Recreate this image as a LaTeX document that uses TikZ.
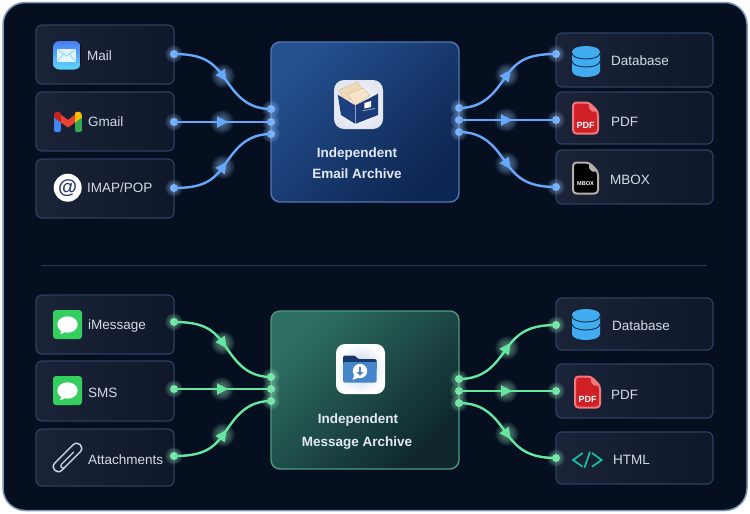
\documentclass[tikz,border=0pt]{standalone}
\usepackage{fontspec}
\setmainfont{Liberation Sans}
\definecolor{panelbg}{HTML}{050F20}
\definecolor{panelln}{HTML}{7F98B8}
\definecolor{boxl}{HTML}{1B2338}
\definecolor{boxr}{HTML}{0F172A}
\definecolor{boxln}{HTML}{2E405F}
\definecolor{labelc}{HTML}{D5DBE6}
\definecolor{titlec}{HTML}{E3E9F3}
\definecolor{bluew}{HTML}{66A8FB}
\definecolor{greenw}{HTML}{66E6A0}
\definecolor{glowb}{HTML}{A0CCFF}
\definecolor{glowg}{HTML}{A0F4C4}
\definecolor{dbblue}{HTML}{41ACEF}
\definecolor{dbline}{HTML}{0D2B4A}
\definecolor{HubLine}{HTML}{1E3A5F}
\definecolor{HubBlueLn}{HTML}{4F78B6}
\definecolor{HubBlueA}{HTML}{24508F}
\definecolor{HubBlueB}{HTML}{0D2551}
\definecolor{HubGreenLn}{HTML}{4E9A80}
\definecolor{HubGreenA}{HTML}{2D6F62}
\definecolor{HubGreenB}{HTML}{0E262C}
\definecolor{BubbleGreen}{HTML}{35CF5F}
\definecolor{MailA}{HTML}{4A7DF2}
\definecolor{MailB}{HTML}{5FD6FB}
\definecolor{GmailBlue}{HTML}{4285F4}
\definecolor{GmailGreen}{HTML}{34A853}
\definecolor{GmailRed}{HTML}{EA4335}
\definecolor{GmailDark}{HTML}{C5221F}
\definecolor{GmailYellow}{HTML}{FBBC04}
\definecolor{AtBlue}{HTML}{2B3A70}
\definecolor{PdfRed}{HTML}{CF2027}
\definecolor{PdfPink}{HTML}{F0797D}
\definecolor{MboxGray}{HTML}{B5B0A8}
\definecolor{PaperA}{HTML}{EFD9B8}
\definecolor{PaperB}{HTML}{F6E3C8}
\definecolor{PaperEdge}{HTML}{D8BE98}
\definecolor{EmailRim}{HTML}{E4E6F2}
\definecolor{FolderA}{HTML}{1E3F80}
\definecolor{FolderB}{HTML}{1B3A78}
\definecolor{PaperGray}{HTML}{8A9BB5}
\definecolor{MsgTint}{HTML}{BCD2EE}
\definecolor{MsgDark}{HTML}{16386B}
\definecolor{MsgFront}{HTML}{4585CB}
\definecolor{ClipGray}{HTML}{C5D0E0}
\definecolor{HtmlTeal}{HTML}{17C3A0}
\tikzset{
  panel/.style={draw=panelln,line width=1.5pt,fill=panelbg,rounded corners=22pt},
  srcbox/.style={draw=boxln,line width=1.2pt,left color=boxl,right color=boxr,rounded corners=6pt},
  hubblue/.style={draw=HubBlueLn,line width=1.4pt,rounded corners=9pt,top color=HubBlueA,bottom color=HubBlueB,shading angle=45},
  hubgreen/.style={draw=HubGreenLn,line width=1.4pt,rounded corners=9pt,top color=HubGreenA,bottom color=HubGreenB,shading angle=45},
  portb/.style={circle,fill=bluew,inner sep=0pt,minimum size=8pt},
  portg/.style={circle,fill=greenw,inner sep=0pt,minimum size=8pt},
  wireb/.style={draw=bluew,line width=2.4pt},
  wireg/.style={draw=greenw,line width=2.4pt},
  lbl/.style={anchor=base west,inner sep=0pt,text=labelc,font=\fontsize{13.5}{15}\selectfont},
  ttl/.style={anchor=base,inner sep=0pt,text=titlec,font=\fontsize{13.5}{15}\selectfont\bfseries},
}
\newcommand\glowat[3]{\foreach \rr in {1,.93,.86,.79,.72,.65,.58,.51,.44,.37,.3,.23}{\fill[#3,opacity=.055] (#1) circle[radius=\rr*#2 pt];}}
\newcommand\arrowmark[3]{\begin{scope}[shift={(#1)},rotate=#2]\fill[#3] (6,0) -- (-5,-5.8) -- (-5,5.8) -- cycle;\end{scope}}
\newcommand\dbicon[2]{\begin{scope}[shift={(#1,#2)}]
 \fill[dbblue] (-14,6) .. controls (-14,-2) and (14,-2) .. (14,6) -- (14,25) .. controls (14,33) and (-14,33) .. (-14,25) -- cycle;
 \draw[dbline,line width=.9pt] (-14,7) .. controls (-14,15) and (14,15) .. (14,7);
 \draw[dbline,line width=.9pt] (-14,15) .. controls (-14,23) and (14,23) .. (14,15);
 \end{scope}}
\newcommand\docicon[7]{\begin{scope}[shift={(#1,#2)}]
 \draw[draw=#4,fill=#3,line width=2pt,rounded corners=3.5pt] (0,0) -- (16,0) -- (25,9) -- (25,31) -- (0,31) -- cycle;
 \fill[#4] (16,0) -- (25,9) -- (19,9) [rounded corners=1pt] -- (16,6) -- cycle;
 \node[inner sep=0pt,text=white,font=\fontsize{#6}{#6}\selectfont\bfseries] (#5) at (12.5,#7) {#5};
 \end{scope}}
\newcommand\bubbleicon[2]{\begin{scope}[shift={(#1,#2)}]
 \fill[BubbleGreen,rounded corners=3pt] (0,0) rectangle (29,29);
 \fill[white] (14.5,14.5) ellipse[x radius=10.2pt,y radius=8.2pt];
 \fill[white] (8.5,19) .. controls (8.5,21) and (8,23) .. (7,24) .. controls (9.5,24) and (11,23) .. (12.5,21.5) -- cycle;
 \end{scope}}
\begin{document}
\begin{tikzpicture}[x=1pt,y=-1pt]
\useasboundingbox (0,0) rectangle (750,514);
\fill[white] (0,0) rectangle (750,514);
\path[panel] (3,2.5) rectangle (747,510.5);
\draw[draw=HubLine,line width=1pt] (41,265) -- (707,265);
% boxes
\foreach \a/\b/\c/\d in {36/25/174/84,36/92/174/151,36/159/174/218,556/33/713/87,556/92/713/144,556/150/713/204,
 36/295/174/354,36/361/174/421,36/429/174/486,556/298/713/350,556/364/713/418,556/432/713/484}{
 \path[srcbox] (\a,\b) rectangle (\c,\d);}
\path[hubblue] (271,42) rectangle (459,202);
\path[hubgreen] (271,311) rectangle (459,469);
% arrow anchors
\coordinate (a1) at (223,76);\coordinate (a2) at (222,122);\coordinate (a3) at (223,167);
\coordinate (b1) at (507,75);\coordinate (b2) at (506,120);\coordinate (b3) at (507,164);
\coordinate (g1) at (223,343);\coordinate (g2) at (222,389);\coordinate (g3) at (223,435);
\coordinate (h1) at (507,348);\coordinate (h2) at (506,391);\coordinate (h3) at (507,434);
\foreach \p in {a1,a2,a3,b1,b2,b3}{\glowat{\p}{12}{glowb}}
\foreach \p in {g1,g2,g3,h1,h2,h3}{\glowat{\p}{12}{glowg}}
% ports
\node[portb] (m1) at (174,54) {};
\node[portb] (m2) at (174,122) {};
\node[portb] (m3) at (174,188) {};
\node[portb] (c1) at (271,109) {};
\node[portb] (c2) at (271,122) {};
\node[portb] (c3) at (271,134) {};
\node[portb] (d1) at (459,108) {};
\node[portb] (d2) at (459,120) {};
\node[portb] (d3) at (459,132) {};
\node[portb] (t1) at (556,54) {};
\node[portb] (t2) at (556,120) {};
\node[portb] (t3) at (556,187) {};
\node[portg] (n1) at (174,322) {};
\node[portg] (n2) at (174,389) {};
\node[portg] (n3) at (174,456) {};
\node[portg] (e1) at (271,377) {};
\node[portg] (e2) at (271,389) {};
\node[portg] (e3) at (271,401) {};
\node[portg] (f1) at (459,379) {};
\node[portg] (f2) at (459,391) {};
\node[portg] (f3) at (459,403) {};
\node[portg] (u1) at (556,325) {};
\node[portg] (u2) at (556,391) {};
\node[portg] (u3) at (556,458) {};
\foreach \p in {m1,m2,m3,c1,c2,c3,d1,d2,d3,t1,t2,t3}{\glowat{\p}{9}{glowb}}
\foreach \p in {n1,n2,n3,e1,e2,e3,f1,f2,f3,u1,u2,u3}{\glowat{\p}{9}{glowg}}
% connectors
\path[wireb] (m1.center) .. controls +(27,0) and +(-11,-15) .. (a1) .. controls +(11,15) and +(-27,0) .. (c1.center);
\path[wireb] (m2.center) -- (c2.center);
\path[wireb] (m3.center) .. controls +(27,0) and +(-11,15) .. (a3) .. controls +(11,-15) and +(-27,0) .. (c3.center);
\path[wireb] (d1.center) .. controls +(27,0) and +(-11,15) .. (b1) .. controls +(11,-15) and +(-27,0) .. (t1.center);
\path[wireb] (d2.center) -- (t2.center);
\path[wireb] (d3.center) .. controls +(27,0) and +(-11,-15) .. (b3) .. controls +(11,15) and +(-27,0) .. (t3.center);
\path[wireg] (n1.center) .. controls +(27,0) and +(-11,-15) .. (g1) .. controls +(11,15) and +(-27,0) .. (e1.center);
\path[wireg] (n2.center) -- (e2.center);
\path[wireg] (n3.center) .. controls +(27,0) and +(-11,15) .. (g3) .. controls +(11,-15) and +(-27,0) .. (e3.center);
\path[wireg] (f1.center) .. controls +(27,0) and +(-11,15) .. (h1) .. controls +(11,-15) and +(-27,0) .. (u1.center);
\path[wireg] (f2.center) -- (u2.center);
\path[wireg] (f3.center) .. controls +(27,0) and +(-11,-15) .. (h3) .. controls +(11,15) and +(-27,0) .. (u3.center);
\arrowmark{a1}{-55}{bluew}\arrowmark{a2}{0}{bluew}\arrowmark{a3}{55}{bluew}
\arrowmark{b1}{55}{bluew}\arrowmark{b2}{0}{bluew}\arrowmark{b3}{-55}{bluew}
\arrowmark{g1}{-55}{greenw}\arrowmark{g2}{0}{greenw}\arrowmark{g3}{55}{greenw}
\arrowmark{h1}{55}{greenw}\arrowmark{h2}{0}{greenw}\arrowmark{h3}{-55}{greenw}
% mail icon
\fill[rounded corners=6pt,top color=MailA,bottom color=MailB] (53,41) rectangle (80.5,69.5);
\fill[white,opacity=.85] (57,49) rectangle (76,61.5);
\draw[MailB,line width=.6pt] (57,49) -- (66.5,56) -- (76,49) (57,61.5) -- (63.5,54) (76,61.5) -- (69.5,54);
% gmail
\fill[GmailBlue,rounded corners=1.5pt] (54,114) rectangle (60.8,132);
\fill[GmailGreen,rounded corners=1.5pt] (75,114) rectangle (81.8,132);
\fill[GmailRed] (60.8,114.5) -- (68,120) -- (75,114.5) -- (75,122.5) -- (68,127.5) -- (60.8,122.5) -- cycle;
\fill[GmailDark] (54,115.5) .. controls (54,111.5) and (58,110.5) .. (60.8,113) -- (60.8,122.5) -- (54,117.5) -- cycle;
\fill[GmailYellow] (81.8,115.5) .. controls (81.8,111.5) and (78,110.5) .. (75,113) -- (75,122.5) -- (81.8,117.5) -- cycle;
% at icon
\fill[white] (67.7,187.7) circle[radius=14pt];
\node[inner sep=0pt,text=AtBlue,font=\fontsize{19.5}{20}\selectfont\bfseries] (atsign) at (67.7,187.7) {@};
% right icons, upper
\dbicon{586}{46}
\docicon{573}{102.5}{PdfRed}{PdfPink}{PDF}{9}{23}
\docicon{573}{162.5}{black}{MboxGray}{MBOX}{5.6}{21.5}
% labels
\node[lbl] (lmail) at (87,60) {Mail};
\node[lbl] (lgmail) at (88,126) {Gmail};
\node[lbl] (limap) at (87,192) {IMAP/POP};
\node[lbl] (ldb) at (611,65) {Database};
\node[lbl] (lpdf) at (611,126) {PDF};
\node[lbl] (lmbox) at (610,184) {MBOX};
\node[lbl] (limsg) at (88,329) {iMessage};
\node[lbl] (lsms) at (88,397) {SMS};
\node[lbl] (latt) at (88,464) {Attachments};
\node[lbl] (ldbb) at (612,330) {Database};
\node[lbl] (lpdfb) at (611,399) {PDF};
\node[lbl] (lhtml) at (613,464) {HTML};
% hub titles
\node[ttl] (t1a) at (357,157) {Independent};
\node[ttl] (t1b) at (357,178) {Email Archive};
\node[ttl] (t2a) at (358,423) {Independent};
\node[ttl] (t2b) at (357,446) {Message Archive};
% email archive icon
\path[rounded corners=10pt,inner color=white,outer color=EmailRim] (334,80) rectangle (383,129);
\draw[fill=PaperA,draw=PaperEdge,line width=.5pt] (339,90) -- (357.7,82) -- (364,93) -- (345,102) -- cycle;
\draw[fill=PaperB,draw=PaperEdge,line width=.5pt] (347.7,94) -- (363,88) -- (370,95.5) -- (355,105.5) -- cycle;
\fill[FolderA] (337.7,94.7) -- (355,105.3) -- (355,123.7) -- (341,115) -- cycle;
\fill[FolderB] (355.7,105.3) -- (378,93.7) -- (378,115) -- (355.7,123.7) -- cycle;
\fill[white] (364.3,103) -- (371,101) -- (371,107) -- (364.3,108.5) -- cycle;
\draw[PaperGray,line width=.9pt] (362.5,110.8) -- (375,108.5);
% message archive icon
\path[rounded corners=9pt,inner color=MsgTint,outer color=white] (336,344) rectangle (385,394);
\fill[MsgDark,rounded corners=1.5pt] (343,355.5) -- (355,355.5) -- (358,359) -- (376.5,359) -- (376.5,370) -- (343,370) -- cycle;
\fill[MsgFront,rounded corners=1.5pt] (343,362) rectangle (376.5,382.5);
\fill[white] (360,371) circle[radius=7.2pt];
\fill[white] (354.5,374) -- (352.5,380) -- (359,377.5) -- cycle;
\draw[MsgFront,line width=1.2pt] (360,366.5) -- (360,374);
\fill[MsgFront] (356.5,372) -- (363.5,372) -- (360,375.8) -- cycle;
% message sources
\bubbleicon{53}{310}
\bubbleicon{53}{376}
\begin{scope}[shift={(67.5,457.5)},rotate=45]
 \draw[ClipGray,line width=1.5pt] (13,-5) .. controls (19.7,-5) and (19.7,5) .. (13,5) -- (-13,5) .. controls (-19.7,5) and (-19.7,-5) .. (-13,-5) -- cycle;
 \draw[ClipGray,line width=1.3pt,line cap=round] (8,0.5) -- (-9,0.5) .. controls (-12,0.5) and (-12,5) .. (-9,5);
\end{scope}
% right icons, lower
\dbicon{586}{309}
\docicon{575}{376.5}{PdfRed}{PdfPink}{PDF}{9}{23}
\draw[HtmlTeal,line width=1.7pt] (582.7,453) -- (573,460) -- (582.7,466.7);
\draw[HtmlTeal,line width=1.7pt] (592,453) -- (601.7,460) -- (592,466.7);
\draw[HtmlTeal,line width=1.7pt] (590,451.7) -- (584.5,467.7);
\end{tikzpicture}
\end{document}
